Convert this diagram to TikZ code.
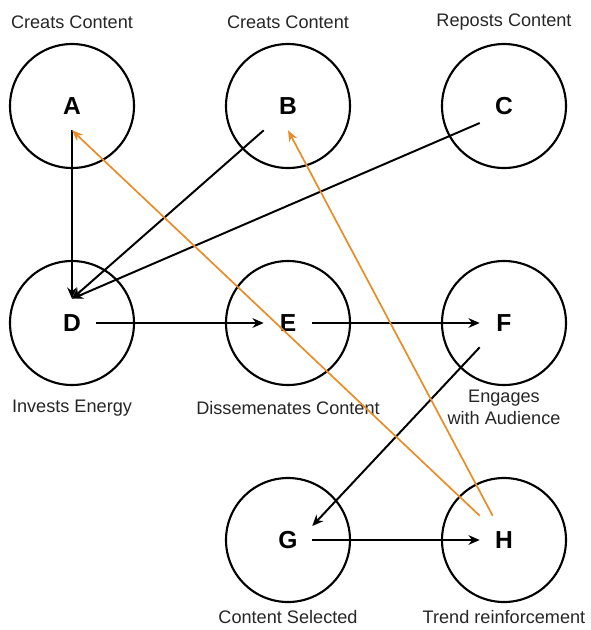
\documentclass[tikz,border=0pt]{standalone}
\usepackage{fontspec}
\setmainfont{Liberation Sans}
\usetikzlibrary{arrows.meta,positioning}
\definecolor{trendorange}{RGB}{232,140,40}

\begin{document}
\begin{tikzpicture}[
  font=\fontsize{12.9}{15.5}\selectfont,
  stage/.style={draw, circle, line width=1.5pt, minimum size=3.1cm, inner sep=0pt},
  letter/.style={font=\fontsize{17.5}{20}\selectfont\bfseries,
                 minimum size=1.2cm, inner sep=0pt},
  caption/.style={align=center, text=black!85},
  flow/.style={-{Stealth[length=2.8mm,width=2.4mm]}, line width=1.4pt},
  loopback/.style={-{Stealth[length=2.8mm,width=2.2mm]}, line width=1.2pt, trendorange},
]

\def\cw{5.4}    % column width
\def\rh{5.425}  % row height

\useasboundingbox (0,0) rectangle (14.775,-15.75);

%% --- Circles and letters ---
\foreach \n/\i/\j in {A/0/0, B/1/0, C/2/0, D/0/1, E/1/1, F/2/1, G/1/2, H/2/2}{
  \node[stage] (c\n) at (1.8+\i*\cw, -2.65-\j*\rh) {};
  \node[letter] (\n) at (c\n) {\n};
}

%% --- Captions ---
\node[caption] at (1.8, -0.55) {Creats Content};
\node[caption] at (1.8+\cw, -0.55) {Creats Content};
\node[caption] at (1.8+2*\cw, -0.55) {Reposts Content};
\node[caption] at (1.8, -10.2) {Invests Energy};
\node[caption] at (1.8+\cw, -10.2) {Dissemenates Content};
\node[caption] at (1.8+2*\cw, -10.18) {Engages\\with Audience};
\node[caption] at (1.8+\cw, -15.42) {Content Selected};
\node[caption] at (1.8+2*\cw, -15.42) {Trend reinforcement};

%% --- Main flow ---
\draw[flow] (A.south) -- (D.north);
\draw[flow] (B.south west) -- (D.north);
\draw[flow] (C.215) -- (D.north);
\draw[flow] (D.east) -- (E.west);
\draw[flow] (E.east) -- (F.west);
\draw[flow] (F.south west) -- (G.30);
\draw[flow] (G.east) -- (H.west);

%% --- Trend feeds back to creators ---
\draw[loopback] (H.north west) -- (A.south);
\draw[loopback] (H.115) -- (B.south);

\end{tikzpicture}
\end{document}
